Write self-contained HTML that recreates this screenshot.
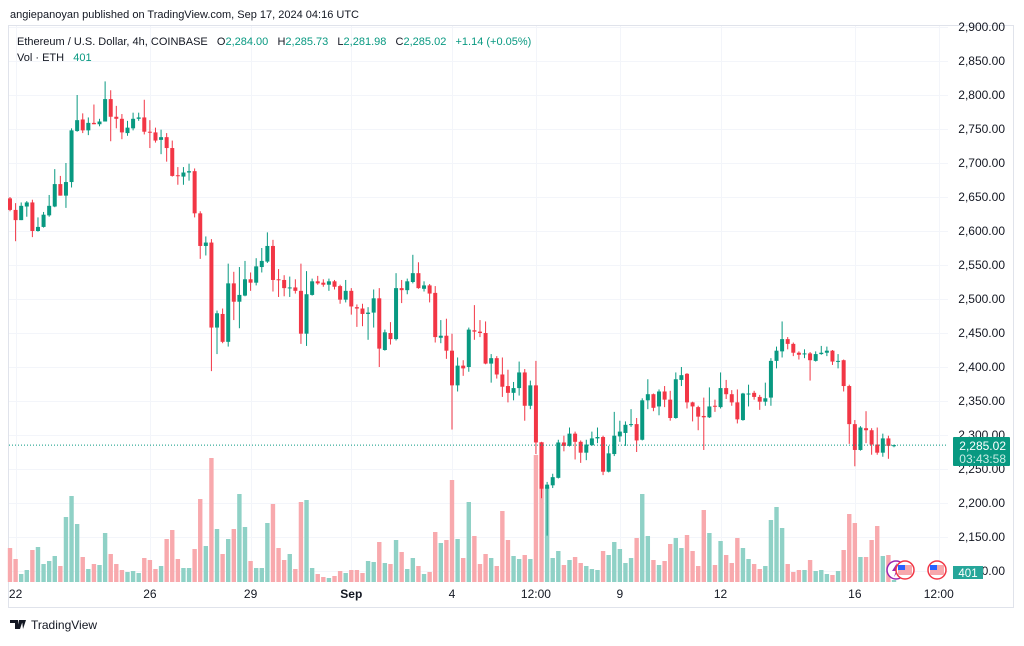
<!DOCTYPE html>
<html><head><meta charset="utf-8">
<style>
html,body{margin:0;padding:0;background:#fff;}
body{width:1024px;height:641px;overflow:hidden;font-family:"Liberation Sans",sans-serif;}
svg text{font-family:"Liberation Sans",sans-serif;}
</style></head>
<body>
<svg id="chart" width="1024" height="641" viewBox="0 0 1024 641" xmlns="http://www.w3.org/2000/svg">
  <rect x="0" y="0" width="1024" height="641" fill="#ffffff"/>
  <text x="10" y="18" font-size="11" fill="#131722">angiepanoyan published on TradingView.com, Sep 17, 2024 04:16 UTC</text>
  <rect x="8.5" y="25.5" width="1005" height="582" fill="none" stroke="#e0e3eb" stroke-width="1"/>
  <g id="grid"></g>
  <g id="volumes"></g>
  <g id="candles"></g>
  <line id="lastline" x1="9" x2="948" stroke="#089981" stroke-width="1" stroke-dasharray="1,2"/>
  <g id="yaxis"></g>
  <g id="xaxis"></g>
  <g>
    <text x="17" y="45" font-size="11" fill="#131722">Ethereum / U.S. Dollar, 4h, COINBASE&#160;&#160; O<tspan fill="#089981">2,284.00</tspan>&#160;&#160; H<tspan fill="#089981">2,285.73</tspan>&#160;&#160; L<tspan fill="#089981">2,281.98</tspan>&#160;&#160; C<tspan fill="#089981">2,285.02</tspan>&#160;&#160; <tspan fill="#089981">+1.14 (+0.05%)</tspan></text>
    <text x="17" y="61" font-size="11" fill="#131722">Vol · ETH&#160;&#160; <tspan fill="#089981">401</tspan></text>
  </g>
  <g>
    <circle cx="896" cy="570" r="9" fill="#fff" stroke="#9c27b0" stroke-width="1.5"/>
    <path d="M897 563 L892 571 L896 571 L894 577 L900 568 L896 568 Z" fill="#9c27b0"/>
    <circle cx="905" cy="570" r="9" fill="#fff" stroke="#f23645" stroke-width="1.5"/>
    <rect x="898" y="565" width="14" height="10" fill="#f7a8ac"/>
    <rect x="898" y="565" width="7" height="5" fill="#2962ff"/>
    <circle cx="937" cy="570" r="9" fill="#fff" stroke="#f23645" stroke-width="1.5"/>
    <rect x="930" y="565" width="14" height="10" fill="#f7a8ac"/>
    <rect x="930" y="565" width="7" height="5" fill="#2962ff"/>
  </g>
  <g>
    <rect x="953" y="437" width="57" height="29" rx="1" fill="#089981"/>
    <text x="1006" y="450" font-size="12" fill="#ffffff" text-anchor="end">2,285.02</text>
    <text x="1006" y="463" font-size="12" fill="#c8ece5" text-anchor="end">03:43:58</text>
  </g>
  <g>
    <rect x="953" y="566" width="30" height="13" fill="#26a69a"/>
    <text x="968" y="577" font-size="11.5" fill="#ffffff" text-anchor="middle">401</text>
  </g>
  <g>
    <path d="M10 620 h8 v9 h-3 v-6 h-5 Z M19 620 h4 l-3 9 h-3 Z M22 620 h4 l-3 9 z" fill="#131722"/>
    <circle cx="21" cy="622" r="1.5" fill="#131722"/>
    <text x="31" y="629" font-size="12" fill="#131722">TradingView</text>
  </g>
</svg>
<script>
const opens  = [2648,2631,2616,2636,2642,2600,2606,2623,2636,2669,2652,2672,2747,2764,2748,2759,2757,2761,2794,2768,2765,2744,2751,2765,2767,2746,2745,2734,2738,2722,2682,2680,2686,2688,2626,2578,2583,2458,2478,2437,2523,2496,2505,2529,2524,2547,2555,2578,2529,2528,2516,2517,2512,2449,2506,2526,2524,2521,2526,2519,2499,2512,2488,2486,2478,2480,2501,2425,2450,2441,2516,2513,2525,2538,2515,2520,2509,2443,2446,2424,2373,2402,2400,2454,2452,2450,2405,2413,2389,2372,2362,2369,2392,2343,2373,2289,2221,2226,2237,2289,2284,2302,2290,2274,2285,2295,2297,2246,2272,2298,2303,2315,2316,2293,2351,2360,2342,2364,2352,2325,2381,2390,2348,2341,2328,2326,2343,2341,2369,2360,2348,2322,2361,2362,2356,2349,2355,2409,2423,2441,2434,2421,2419,2420,2409,2419,2421,2424,2408,2410,2372,2316,2278,2310,2307,2286,2274,2295,2284];
const closes = [2631,2616,2637,2642,2600,2606,2624,2637,2669,2652,2672,2748,2763,2748,2759,2757,2761,2794,2768,2765,2745,2752,2765,2767,2746,2745,2733,2738,2722,2681,2681,2686,2688,2626,2578,2583,2458,2479,2437,2523,2496,2506,2529,2524,2548,2556,2578,2528,2528,2516,2517,2512,2449,2507,2526,2523,2521,2526,2518,2499,2512,2489,2486,2478,2480,2501,2427,2451,2441,2516,2513,2526,2538,2516,2520,2508,2444,2446,2424,2373,2402,2398,2455,2452,2450,2405,2413,2389,2371,2362,2369,2392,2343,2373,2289,2221,2227,2238,2289,2284,2302,2290,2274,2286,2295,2297,2246,2273,2299,2305,2315,2316,2292,2351,2360,2340,2364,2352,2325,2382,2388,2348,2342,2327,2326,2342,2342,2369,2360,2348,2323,2361,2361,2356,2349,2354,2409,2424,2441,2434,2421,2418,2420,2410,2419,2421,2424,2408,2409,2372,2316,2278,2311,2307,2286,2274,2295,2284,2285];
const highs  = [2650,2641,2642,2644,2646,2620,2628,2653,2691,2681,2700,2751,2800,2773,2767,2786,2765,2820,2807,2784,2772,2762,2774,2774,2793,2763,2752,2749,2744,2733,2694,2694,2699,2692,2629,2592,2588,2483,2486,2552,2540,2547,2556,2539,2560,2575,2598,2587,2544,2535,2533,2529,2552,2541,2530,2534,2529,2530,2528,2521,2528,2516,2492,2493,2488,2514,2516,2455,2466,2538,2528,2530,2565,2554,2526,2522,2519,2469,2471,2449,2414,2410,2458,2491,2469,2467,2419,2416,2414,2396,2378,2408,2397,2380,2409,2290,2231,2243,2293,2299,2311,2305,2292,2293,2305,2311,2299,2284,2334,2321,2320,2338,2325,2354,2382,2361,2367,2372,2365,2392,2400,2391,2349,2343,2355,2370,2352,2392,2381,2366,2367,2362,2374,2365,2359,2377,2413,2430,2467,2444,2436,2423,2426,2422,2423,2431,2430,2425,2419,2411,2374,2322,2313,2335,2310,2311,2302,2299,2286];
const lows   = [2629,2585,2616,2621,2591,2599,2605,2621,2635,2652,2634,2664,2746,2744,2741,2757,2754,2761,2732,2751,2735,2740,2748,2762,2742,2722,2730,2713,2702,2680,2668,2668,2674,2620,2559,2564,2394,2419,2435,2430,2469,2457,2504,2512,2520,2539,2553,2511,2503,2504,2503,2508,2434,2431,2505,2521,2518,2512,2514,2493,2495,2477,2459,2460,2440,2458,2400,2424,2433,2439,2494,2507,2523,2515,2511,2495,2436,2435,2412,2308,2364,2387,2393,2440,2444,2404,2377,2383,2356,2348,2351,2358,2321,2338,2272,2207,2152,2222,2236,2276,2283,2264,2259,2263,2284,2288,2241,2245,2269,2290,2284,2312,2275,2292,2338,2335,2329,2341,2321,2324,2372,2339,2320,2307,2278,2325,2334,2339,2353,2343,2317,2321,2342,2352,2337,2343,2343,2398,2414,2426,2416,2411,2413,2380,2408,2418,2416,2403,2398,2364,2287,2254,2277,2288,2271,2271,2268,2265,2282];
const volumes= [34,23,8,12,32,35,18,21,26,16,65,86,58,25,13,18,17,49,28,18,12,10,11,9,24,22,13,16,43,52,23,14,14,33,83,36,124,53,28,43,53,88,55,21,14,14,59,78,34,22,28,13,80,82,14,8,5,4,6,11,9,12,12,9,21,20,40,19,18,42,30,13,24,16,8,10,50,39,42,102,43,24,80,46,18,28,24,16,71,42,26,23,27,23,127,140,95,24,31,17,22,25,19,16,13,12,31,27,40,33,19,24,44,88,46,22,17,21,38,44,34,47,31,16,72,49,17,41,27,19,44,34,23,18,13,16,62,75,54,18,10,12,12,22,11,12,8,7,11,32,68,59,25,25,42,56,26,27,2];
const priceTicks = [2900,2850,2800,2750,2700,2650,2600,2550,2500,2450,2400,2350,2300,2250,2200,2150,2100];
const timeTickIdx = [1,25,43,61,79,94,109,127,151,166];
const timeTickLabels = ["22","26","29","Sep","4","12:00","9","12","16","12:00"];
const lastPrice = 2285.02;

const NS = "http://www.w3.org/2000/svg";
const yPrice = p => 95 + (2800 - p) * 0.68;
const xIdx = i => 10 + i * 5.595;
const yVol = v => 582 - v * 1.0;
function mk(tag, attrs, parent){ const e=document.createElementNS(NS,tag); for(const k in attrs) e.setAttribute(k,attrs[k]); parent.appendChild(e); return e; }

const grid = document.getElementById('grid');
const yaxis = document.getElementById('yaxis');
priceTicks.forEach(p=>{
  const y = Math.round(yPrice(p))+0.5;
  const gl = mk('line',{x1:9,x2:948,y1:y,y2:y,stroke:'#f3f5fa','stroke-width':1},grid);
  
  
  const t = mk('text',{x:1005,y:yPrice(p)+4,'font-size':12,fill:'#131722','text-anchor':'end'},yaxis);
  t.textContent = p.toLocaleString('en-US')+'.00';
  
  
});
const xaxis = document.getElementById('xaxis');
timeTickIdx.forEach((ix,k)=>{
  const x = Math.round(xIdx(ix))+0.5;
  const gl = mk('line',{x1:x,x2:x,y1:26,y2:582,stroke:'#f3f5fa','stroke-width':1},grid);
  
  
  const lbl = timeTickLabels[k];
  const t = mk('text',{x:xIdx(ix),y:598,'font-size':12,fill:'#131722','text-anchor':'middle','font-weight':lbl==='Sep'?'bold':'normal'},xaxis);
  t.textContent = lbl;
  
  
});

const vg = document.getElementById('volumes');
const cg = document.getElementById('candles');
opens.forEach((o,i)=>{
  const c = closes[i], up = c >= o;
  const x = xIdx(i);
  const vb = mk('rect',{x:x-2.2,width:4.4,y:yVol(volumes[i]),height:582-yVol(volumes[i]),fill:up?'#8fd1c6':'#f8a9ad'},vg);
  
  
  const col = up ? '#089981' : '#f23645';
  const w = mk('line',{x1:x,x2:x,y1:yPrice(highs[i]),y2:yPrice(lows[i]),stroke:col,'stroke-width':1},cg);
  
  
  const top = yPrice(Math.max(o,c)), bot = yPrice(Math.min(o,c));
  const b = mk('rect',{x:x-2,width:4,y:top,height:Math.max(1,bot-top),fill:col},cg);
  
  
});
const ll = document.getElementById('lastline');
ll.setAttribute('y1', yPrice(lastPrice));
ll.setAttribute('y2', yPrice(lastPrice));
</script>
</body></html>
